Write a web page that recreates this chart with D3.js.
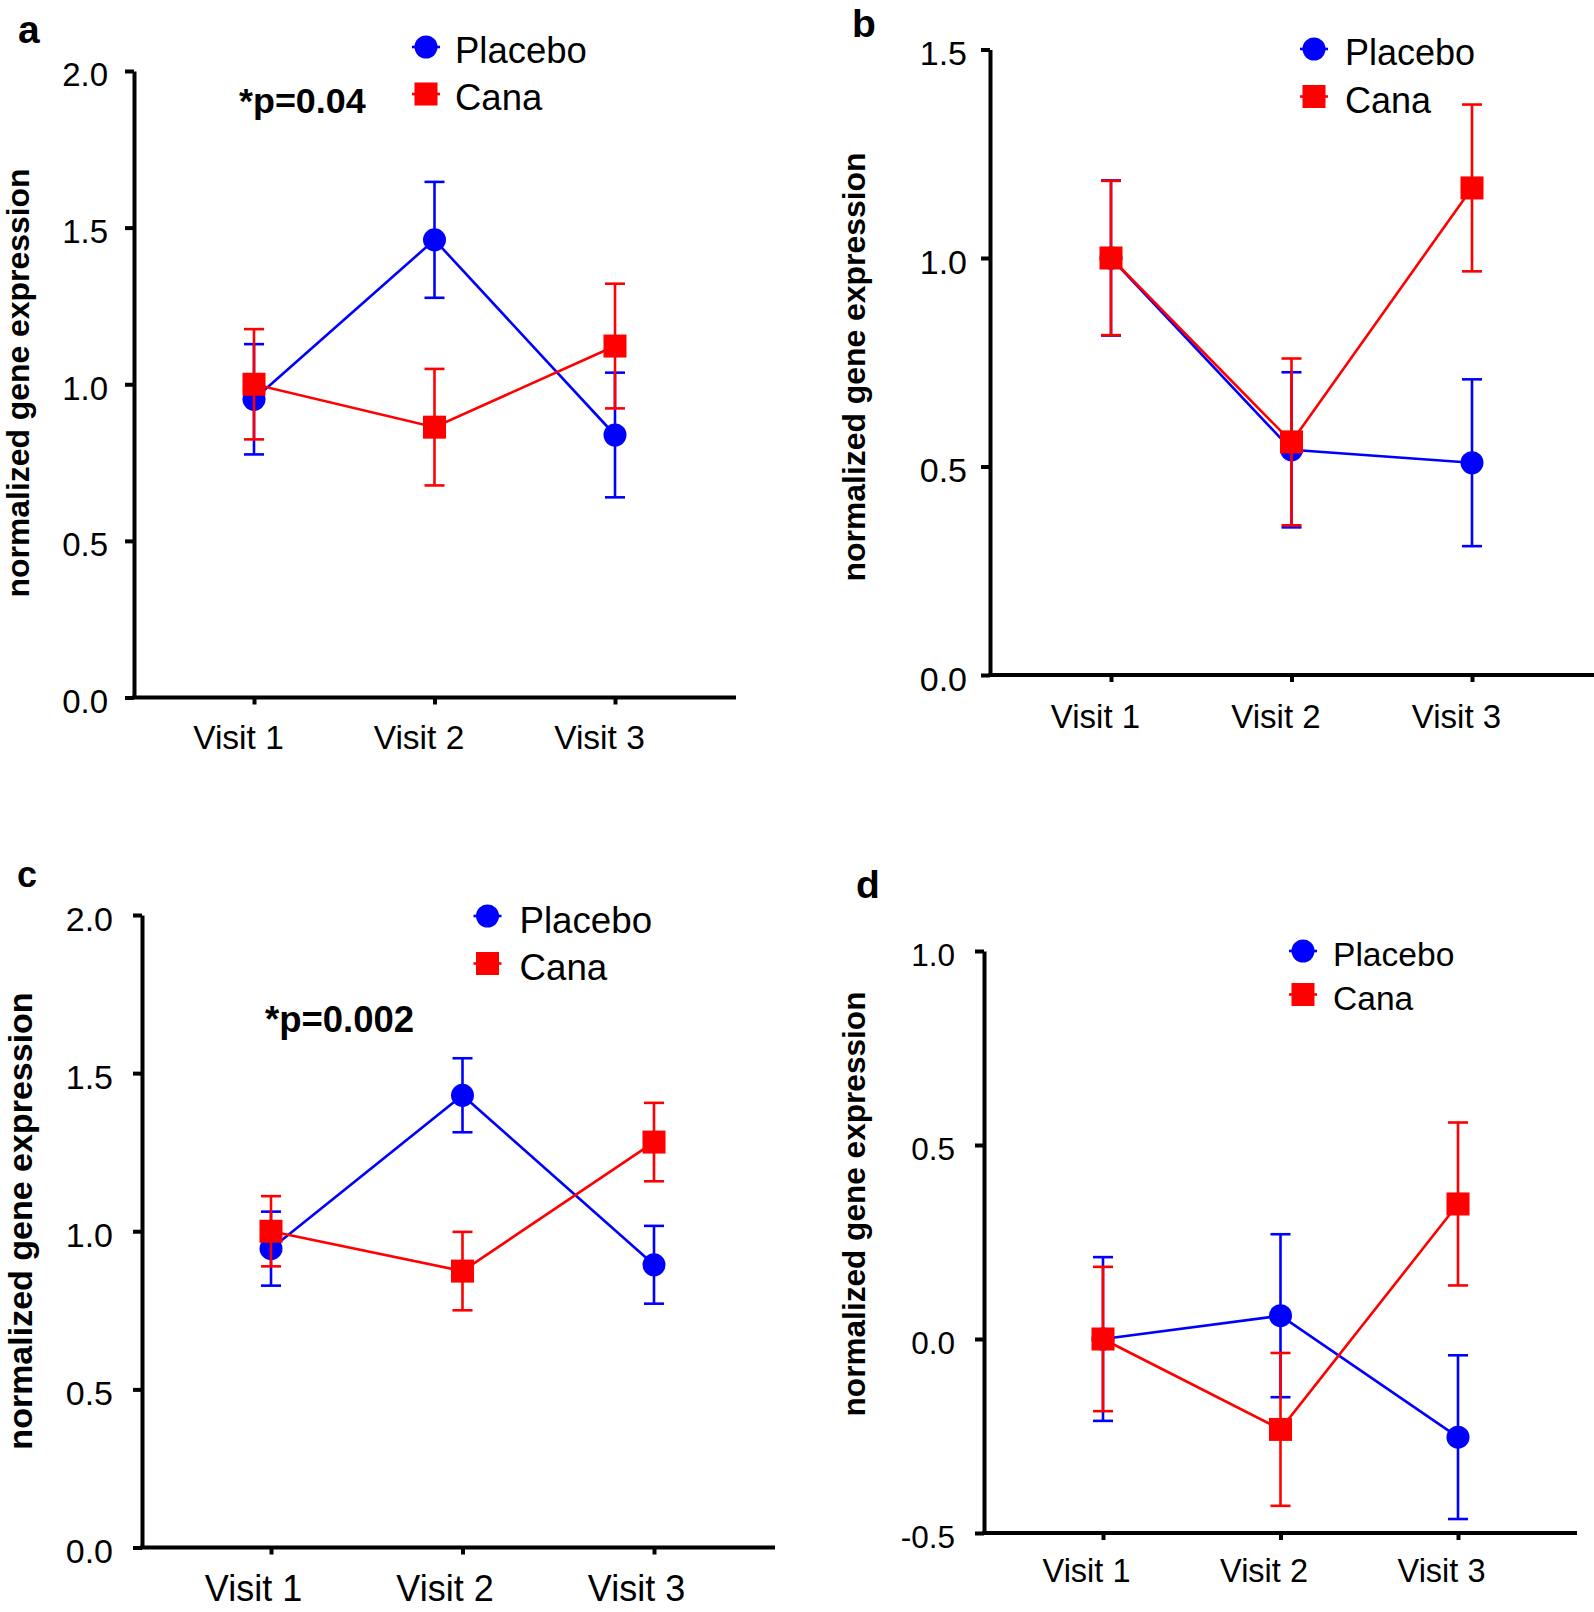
<!DOCTYPE html>
<html>
<head>
<meta charset="utf-8">
<script src="https://cdn.jsdelivr.net/npm/d3@7"></script>
<style>
  body { margin: 0; background: #fff; }
  svg { display: block; font-family: "Liberation Sans", Arial, sans-serif; }
</style>
</head>
<body>
<svg id="chart" width="1594" height="1612"></svg>
<script>
// categories / series
var visits = ["Visit 1", "Visit 2", "Visit 3"];
var seriesNames = ["Placebo", "Cana"];
var letters = ["a", "b", "c", "d"];
var pLabels = ["*p=0.04", "", "*p=0.002", ""];

// y tick values per panel
var yTicksA = [0, 0.5, 1.0, 1.5, 2.0];
var yTicksB = [0, 0.5, 1.0, 1.5];
var yTicksC = [0, 0.5, 1.0, 1.5, 2.0];
var yTicksD = [-0.5, 0, 0.5, 1.0];

// means and error (SEM)
var placeboA = [0.952, 1.461, 0.838], placeboAErr = [0.176, 0.185, 0.199];
var canaA    = [1.000, 0.863, 1.122], canaAErr    = [0.176, 0.186, 0.199];

var placeboB = [1.000, 0.540, 0.509], placeboBErr = [0.186, 0.186, 0.200];
var canaB    = [1.000, 0.559, 1.168], canaBErr    = [0.185, 0.200, 0.200];

var placeboC = [0.945, 1.430, 0.894], placeboCErr = [0.117, 0.117, 0.123];
var canaC    = [1.000, 0.874, 1.282], canaCErr    = [0.111, 0.124, 0.124];

var placeboD = [0.000, 0.060, -0.253], placeboDErr = [0.211, 0.210, 0.211];
var canaD    = [0.000, -0.233, 0.348], canaDErr    = [0.186, 0.197, 0.210];

var blue = "#0000ff", red = "#ff0000";

// layout for each panel (positions only)
var panels = [
  {yTicks: yTicksA, vals: [placeboA, canaA], errs: [placeboAErr, canaAErr],
   ax: 134, yTop: 71, yBot: 697.5, x1: 254, x3: 615, xEnd: 736,
   tickFont: 33, tickGap: 17, visitFont: 33.5, visitDx: -16, visitDy: 51,
   legX: 426, legY: 47, legStep: 47, legFont: 36.5, legGap: 29,
   letter: [18, 43, 39], title: [29, 383, 31.9], p: [239, 113, 35.9]},
  {yTicks: yTicksB, vals: [placeboB, canaB], errs: [placeboBErr, canaBErr],
   ax: 990, yTop: 49.5, yBot: 675, x1: 1111, x3: 1472, xEnd: 1594,
   tickFont: 34, tickGap: 14, visitFont: 33, visitDx: -16, visitDy: 53,
   legX: 1314, legY: 49, legStep: 47.5, legFont: 36, legGap: 31,
   letter: [852, 37, 39], title: [864.5, 367, 31.9], p: [0, 0, 0]},
  {yTicks: yTicksC, vals: [placeboC, canaC], errs: [placeboCErr, canaCErr],
   ax: 142, yTop: 915, yBot: 1547.5, x1: 271, x3: 654, xEnd: 775,
   tickFont: 34, tickGap: 20, visitFont: 36, visitDx: -18, visitDy: 53,
   legX: 487.5, legY: 916, legStep: 47.5, legFont: 36.7, legGap: 32,
   letter: [17, 887, 36], title: [32, 1221, 34], p: [265, 1032, 36.5]},
  {yTicks: yTicksD, vals: [placeboD, canaD], errs: [placeboDErr, canaDErr],
   ax: 984, yTop: 951, yBot: 1533, x1: 1103, x3: 1458, xEnd: 1577,
   tickFont: 31.5, tickGap: 20, visitFont: 32.5, visitDx: -17, visitDy: 49,
   legX: 1303, legY: 951, legStep: 43.5, legFont: 33.6, legGap: 30,
   letter: [856, 898, 39], title: [864.5, 1204, 31.6], p: [0, 0, 0]}
];

var fmt = d3.formatLocale({decimal: ".", thousands: ",", grouping: [3], currency: ["$", ""], minus: "-"}).format(".1f");

var svg = d3.select("#chart");
var colors = [blue, red];

panels.forEach(function(cfg, pi) {
  var g = svg.append("g");

  var y = d3.scaleLinear()
    .domain(d3.extent(cfg.yTicks))
    .range([cfg.yBot, cfg.yTop]);
  var x = d3.scalePoint()
    .domain(visits)
    .range([cfg.x1, cfg.x3]);

  // y axis
  var yAxis = d3.axisLeft(y)
    .tickValues(cfg.yTicks)
    .tickFormat(fmt)
    .tickSize(9)
    .tickSizeOuter(0)
    .tickPadding(cfg.tickGap);
  var yg = g.append("g")
    .attr("transform", "translate(" + cfg.ax + ",0)")
    .call(yAxis);
  yg.select(".domain").attr("stroke-width", 4);
  yg.selectAll(".tick line").attr("stroke-width", 4);
  yg.selectAll(".tick text")
    .attr("font-size", cfg.tickFont)
    .attr("font-family", "Liberation Sans, Arial, sans-serif")
    .attr("fill", "#000")
    .attr("dy", "0.45em");

  // x axis
  var xAxis = d3.axisBottom(x).tickSize(7).tickSizeOuter(0);
  var xg = g.append("g")
    .attr("transform", "translate(0," + cfg.yBot + ")")
    .call(xAxis);
  xg.select(".domain").remove();
  xg.append("line")
    .attr("x1", cfg.ax - 2).attr("x2", cfg.xEnd)
    .attr("y1", 0).attr("y2", 0)
    .attr("stroke", "#000").attr("stroke-width", 4);
  xg.selectAll(".tick line").attr("stroke-width", 4);
  xg.selectAll(".tick text")
    .attr("font-size", cfg.visitFont)
    .attr("font-family", "Liberation Sans, Arial, sans-serif")
    .attr("fill", "#000")
    .attr("y", cfg.visitDy)
    .attr("dy", 0)
    .attr("dx", cfg.visitDx);

  // series: blue first, red on top
  cfg.vals.forEach(function(vals, si) {
    var errs = cfg.errs[si];
    var col = colors[si];
    var pts = visits.map(function(v, i) { return {v: v, m: vals[i], e: errs[i]}; });
    var sg = g.append("g");

    sg.append("path")
      .datum(pts)
      .attr("fill", "none")
      .attr("stroke", col)
      .attr("stroke-width", 2.6)
      .attr("d", d3.line().x(function(d) { return x(d.v); }).y(function(d) { return y(d.m); }));

    var eb = sg.selectAll(".err").data(pts).enter().append("g");
    eb.append("line")
      .attr("x1", function(d) { return x(d.v); })
      .attr("x2", function(d) { return x(d.v); })
      .attr("y1", function(d) { return y(d.m - d.e); })
      .attr("y2", function(d) { return y(d.m + d.e); })
      .attr("stroke", col).attr("stroke-width", 2.6);
    [-1, 1].forEach(function(s) {
      eb.append("line")
        .attr("x1", function(d) { return x(d.v) - 10; })
        .attr("x2", function(d) { return x(d.v) + 10; })
        .attr("y1", function(d) { return y(d.m + s * d.e); })
        .attr("y2", function(d) { return y(d.m + s * d.e); })
        .attr("stroke", col).attr("stroke-width", 2.6);
    });

    if (si === 0) {
      sg.selectAll(".mk").data(pts).enter().append("circle")
        .attr("cx", function(d) { return x(d.v); })
        .attr("cy", function(d) { return y(d.m); })
        .attr("r", 11.5)
        .attr("fill", col);
    } else {
      sg.selectAll(".mk").data(pts).enter().append("rect")
        .attr("x", function(d) { return x(d.v) - 11.5; })
        .attr("y", function(d) { return y(d.m) - 11.5; })
        .attr("width", 23).attr("height", 23)
        .attr("fill", col);
    }
  });

  // legend
  seriesNames.forEach(function(name, si) {
    var ly = cfg.legY + si * cfg.legStep;
    var col = colors[si];
    g.append("line")
      .attr("x1", cfg.legX - 14).attr("x2", cfg.legX + 14)
      .attr("y1", ly).attr("y2", ly)
      .attr("stroke", col).attr("stroke-width", 2.6);
    if (si === 0) {
      g.append("circle").attr("cx", cfg.legX).attr("cy", ly).attr("r", 11.5).attr("fill", col);
    } else {
      g.append("rect").attr("x", cfg.legX - 11.5).attr("y", ly - 11.5)
        .attr("width", 23).attr("height", 23).attr("fill", col);
    }
    g.append("text")
      .attr("x", cfg.legX + cfg.legGap).attr("y", ly)
      .attr("dy", "0.45em")
      .attr("font-size", cfg.legFont)
      .text(name);
  });

  // panel letter
  g.append("text")
    .attr("x", cfg.letter[0]).attr("y", cfg.letter[1])
    .attr("font-size", cfg.letter[2])
    .attr("font-weight", "bold")
    .text(letters[pi]);

  // y title
  g.append("text")
    .attr("transform", "translate(" + cfg.title[0] + "," + cfg.title[1] + ") rotate(-90)")
    .attr("text-anchor", "middle")
    .attr("font-size", cfg.title[2])
    .attr("font-weight", "bold")
    .text("normalized gene expression");

  // significance
  if (pLabels[pi]) {
    g.append("text")
      .attr("x", cfg.p[0]).attr("y", cfg.p[1])
      .attr("font-size", cfg.p[2])
      .attr("font-weight", "bold")
      .text(pLabels[pi]);
  }
});
</script>
</body>
</html>
